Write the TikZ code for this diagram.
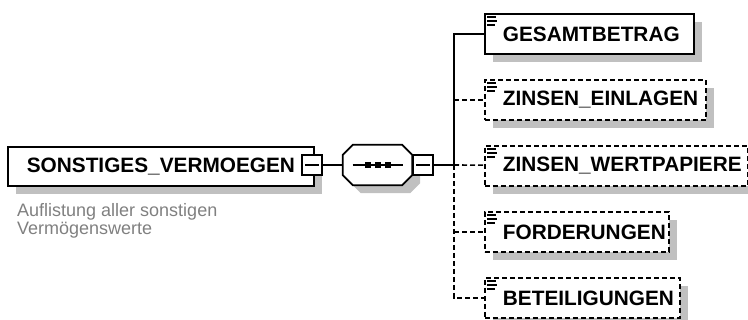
\documentclass[tikz,border=0pt]{standalone}
\usepackage{fontspec}
\setmainfont{Liberation Sans}
\usetikzlibrary{shadows,calc}
\definecolor{shadowgray}{RGB}{192,192,192}
\definecolor{descgray}{RGB}{128,128,128}
\begin{document}
\begin{tikzpicture}[x=1pt,y=-1pt,
  shadowed/.style={drop shadow={shadow xshift=8pt, shadow yshift=-8pt, fill=shadowgray, opacity=1}},
  elem/.style={rectangle, draw=black, line width=1.8pt, fill=white, inner sep=0pt,
    minimum height=40pt, anchor=north west, font=\fontsize{20.8}{24}\selectfont\bfseries, shadowed},
  child/.style={elem, align=left},
  optional/.style={child, dash pattern=on 5pt off 3pt},
  minusbox/.style={rectangle, draw=black, line width=1.6pt, fill=white, minimum size=20pt, inner sep=0pt,
    path picture={\draw[line width=1.6pt] ([xshift=3pt]path picture bounding box.west) -- ([xshift=-3pt]path picture bounding box.east);}},
  conn/.style={draw=black, line width=1.6pt},
  dconn/.style={conn, dash pattern=on 5pt off 3pt},
  dot/.style={rectangle, fill=black, minimum size=6pt, inner sep=0pt},
  desc/.style={anchor=base west, inner sep=0pt, text=descgray, font=\fontsize{18}{18}\selectfont},
  icon/.style={line width=1.3pt}
]
\useasboundingbox (0,0) rectangle (748,320);

% main element
\node[elem, minimum width=306pt, minimum height=39pt] (main) at (7,146) {SONSTIGES\_VERMOEGEN};
\node[minusbox] (mminus) at (312,165) {};
\node[desc] (desc1) at (17,217) {Auflistung aller sonstigen};
\node[desc] (desc2) at (17,235) {Vermögenswerte};

% sequence compositor (octagon)
\node[rectangle, minimum width=69pt, minimum height=40pt, inner sep=0pt] (seq) at (377.5,165) {};
\fill[shadowgray] ($(seq.north west)+(8,18)$) -- ($(seq.north west)+(18,8)$) -- ($(seq.north east)+(-2,8)$)
  -- ($(seq.north east)+(8,18)$) -- ($(seq.south east)+(8,-2)$) -- ($(seq.south east)+(-2,8)$)
  -- ($(seq.south west)+(18,8)$) -- ($(seq.south west)+(8,-2)$) -- cycle;
\draw[line width=1.8pt, fill=white] ($(seq.north west)+(0,10)$) -- ($(seq.north west)+(10,0)$) -- ($(seq.north east)+(-10,0)$)
  -- ($(seq.north east)+(0,10)$) -- ($(seq.south east)+(0,-10)$) -- ($(seq.south east)+(-10,0)$)
  -- ($(seq.south west)+(10,0)$) -- ($(seq.south west)+(0,-10)$) -- cycle;
\draw[line width=1.6pt] ([xshift=-25pt]seq.center) -- ([xshift=25pt]seq.center);
\node[dot] (d1) at ([xshift=-10pt]seq.center) {};
\node[dot] (d2) at ([xshift=0pt]seq.center) {};
\node[dot] (d3) at ([xshift=10pt]seq.center) {};
\node[minusbox] (sminus) at (423,165) {};

% children
\node[child, text width=209pt] (c1) at (484,13) {\hspace*{18pt}GESAMTBETRAG};
\node[optional, text width=221pt] (c2) at (484,79) {\hspace*{18pt}ZINSEN\_EINLAGEN};
\node[optional, text width=263pt] (c3) at (484,145) {\hspace*{18pt}ZINSEN\_WERTPAPIERE};
\node[optional, text width=184pt] (c4) at (484,211) {\hspace*{18pt}FORDERUNGEN};
\node[optional, text width=195pt] (c5) at (484,277) {\hspace*{18pt}BETEILIGUNGEN};

% list icons
\foreach \n in {c1,c2,c3,c4,c5}{
  \draw[icon] ([shift={(3,4)}]\n.north west) -- ++(9,0);
  \draw[icon] ([shift={(3,8)}]\n.north west) -- ++(10,0);
  \draw[icon] ([shift={(3,12)}]\n.north west) -- ++(8,0);
}

% connectors
\coordinate (j) at (454,165);
\draw[conn] (mminus) -- (seq);
\draw[conn] (sminus) -- (j);
\draw[dconn] (j) |- (c5);
\draw[dconn] (c2.west -| j) -- (c2);
\draw[dconn] (j) -- (c3);
\draw[dconn] (c4.west -| j) -- (c4);
\draw[conn] (j) |- (c1);
\end{tikzpicture}
\end{document}
